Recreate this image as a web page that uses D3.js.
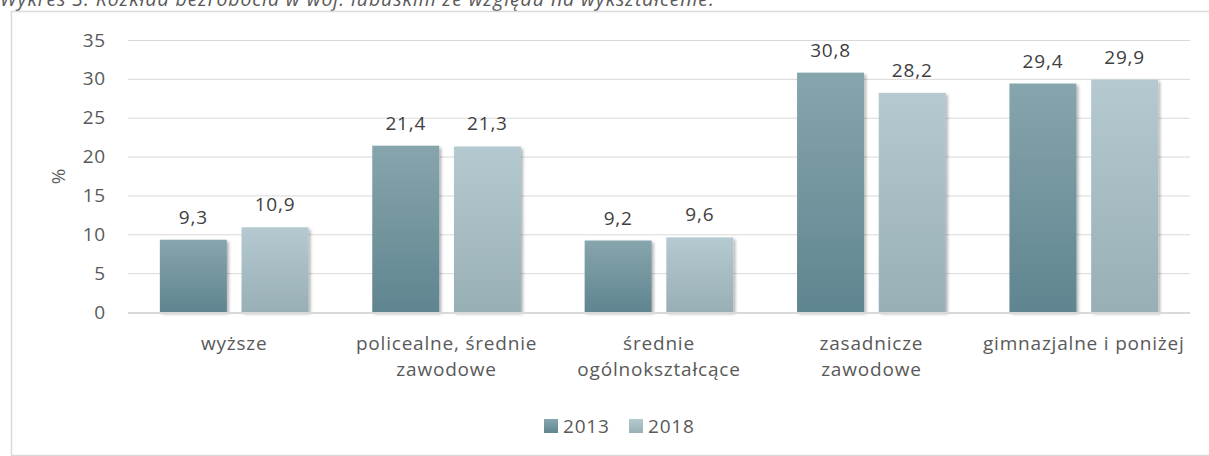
<!DOCTYPE html>
<html>
<head>
<meta charset="utf-8">
<script src="https://cdnjs.cloudflare.com/ajax/libs/d3/7.8.5/d3.min.js"></script>
<style>
  body { margin: 0; background: #fff; }
  svg { display: block; font-family: "Open Sans", sans-serif; letter-spacing: 0.8px; }
</style>
</head>
<body>
<div id="chart"></div>
<script>
const categories = [
  ["wyższe"],
  ["policealne, średnie", "zawodowe"],
  ["średnie", "ogólnokształcące"],
  ["zasadnicze", "zawodowe"],
  ["gimnazjalne i poniżej"]
];
const series = ["2013", "2018"];
const values2013 = [9.3, 21.4, 9.2, 30.8, 29.4];
const values2018 = [10.9, 21.3, 9.6, 28.2, 29.9];
const yTicks = [0, 5, 10, 15, 20, 25, 30, 35];

const w = 1209, h = 456;
const plotLeft = 128, plotRight = 1190, plotTop = 40, plotBottom = 312;
const fs = 19;

const svg = d3.select("#chart").append("svg")
  .attr("width", w).attr("height", h);

const defs = svg.append("defs");
const grads = [["g2013", "#87a5ac", "#5f8590"], ["g2018", "#b4cad0", "#99afb6"]];
grads.forEach(g => {
  const lg = defs.append("linearGradient").attr("id", g[0])
    .attr("x1", 0).attr("y1", 0).attr("x2", 0).attr("y2", 1);
  lg.append("stop").attr("offset", "0%").attr("stop-color", g[1]);
  lg.append("stop").attr("offset", "100%").attr("stop-color", g[2]);
});
const f = defs.append("filter").attr("id", "shadow")
  .attr("x", "-20%").attr("y", "-20%").attr("width", "140%").attr("height", "140%");
f.append("feDropShadow").attr("dx", 2).attr("dy", 2).attr("stdDeviation", 1.5)
  .attr("flood-color", "#000").attr("flood-opacity", 0.3);

// title (cut at top like the source)
svg.append("text")
  .attr("x", 0).attr("y", 6)
  .attr("font-style", "italic").attr("font-size", 19.5).attr("fill", "#595959")
  .style("letter-spacing", "0.9px")
  .text("Wykres 3. Rozkład bezrobocia w woj. lubuskim ze względu na wykształcenie.");

// chart border
svg.append("rect")
  .attr("x", 11.5).attr("y", 11.5).attr("width", 1300).attr("height", 444)
  .attr("fill", "none").attr("stroke", "#d9d9d9").attr("stroke-width", 1.5);

const x0 = d3.scaleBand().domain(d3.range(categories.length))
  .range([plotLeft, plotRight]).paddingInner(0.3).paddingOuter(0.15);
const x1 = d3.scaleBand().domain(series).range([0, x0.bandwidth()])
  .paddingInner(0.18);
const y = d3.scaleLinear().domain([0, 35]).range([plotBottom, plotTop]);

// gridlines
svg.append("g").selectAll("line").data(yTicks.filter(d => d > 0)).enter()
  .append("line")
  .attr("x1", plotLeft).attr("x2", plotRight)
  .attr("y1", d => y(d) + 0.5).attr("y2", d => y(d) + 0.5)
  .attr("stroke", "#d9d9d9").attr("stroke-width", 1);

// y axis labels
const yAxis = d3.axisLeft(y).tickValues(yTicks).tickSize(0).tickPadding(0);
const ya = svg.append("g").attr("transform", "translate(106,0)").call(yAxis);
ya.select(".domain").remove();
ya.selectAll("text").attr("font-size", fs).attr("fill", "#595959")
  .attr("font-family", "Open Sans, sans-serif");

svg.append("text")
  .attr("transform", "translate(65," + (y(17.5)) + ") rotate(-90)")
  .attr("text-anchor", "middle").attr("font-size", fs).attr("fill", "#595959")
  .text("%");

// bars
const data = categories.map((c, i) => ({ i, vals: [values2013[i], values2018[i]] }));
const groups = svg.append("g").selectAll("g").data(data).enter()
  .append("g").attr("transform", d => "translate(" + x0(d.i) + ",0)");

groups.selectAll("rect").data(d => d.vals.map((v, k) => ({ k, v }))).enter()
  .append("rect")
  .attr("x", d => x1(series[d.k]))
  .attr("y", d => y(d.v))
  .attr("width", x1.bandwidth())
  .attr("height", d => y(0) - y(d.v))
  .attr("fill", d => "url(#g" + series[d.k] + ")")
  .attr("filter", "url(#shadow)");

groups.selectAll("text.val").data(d => d.vals.map((v, k) => ({ k, v }))).enter()
  .append("text").attr("class", "val")
  .attr("x", d => x1(series[d.k]) + x1.bandwidth() / 2)
  .attr("y", d => y(d.v) - 16)
  .attr("text-anchor", "middle").attr("font-size", fs).attr("fill", "#404040")
  .text(d => d.v.toFixed(1).replace(".", ","));

// baseline
svg.append("line")
  .attr("x1", plotLeft).attr("x2", plotRight)
  .attr("y1", y(0) + 1).attr("y2", y(0) + 1)
  .attr("stroke", "#d9d9d9").attr("stroke-width", 2);

// category labels
const cl = svg.append("g").selectAll("text").data(categories).enter()
  .append("text")
  .attr("x", (d, i) => x0(i) + x0.bandwidth() / 2)
  .attr("y", 350)
  .attr("text-anchor", "middle").attr("font-size", fs).attr("fill", "#595959");
cl.selectAll("tspan").data(d => d).enter().append("tspan")
  .attr("x", function () { return d3.select(this.parentNode).attr("x"); })
  .attr("dy", (d, i) => i === 0 ? 0 : 26)
  .text(d => d);

// legend
const legX = [544, 629];
const leg = svg.append("g").selectAll("g").data(series).enter()
  .append("g").attr("transform", (d, i) => "translate(" + legX[i] + ",419)");
leg.append("rect").attr("width", 14).attr("height", 14)
  .attr("fill", d => "url(#g" + d + ")");
leg.append("text").attr("x", 19).attr("y", 14)
  .attr("font-size", fs).attr("fill", "#595959").text(d => d);
</script>
</body>
</html>
